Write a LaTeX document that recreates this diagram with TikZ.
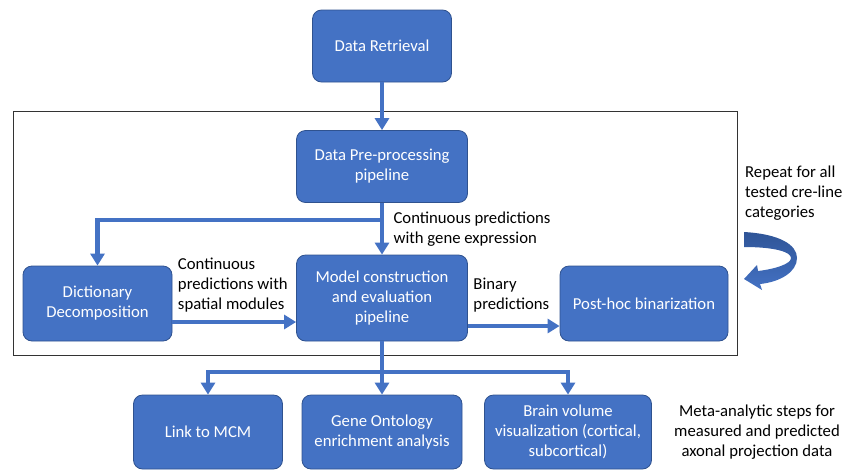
\documentclass[tikz,border=0pt]{standalone}
\usepackage{fontspec}
\setmainfont{Carlito}
\usetikzlibrary{arrows.meta,positioning}
\definecolor{boxblue}{HTML}{4472C4}
\definecolor{boxline}{HTML}{2F528F}
\definecolor{darkblue}{HTML}{2F5597}

\begin{document}
\begin{tikzpicture}[x=1pt,y=-1pt,>={Triangle[width=14pt,length=12pt]},
                    font=\fontsize{16.7}{20}\selectfont,
                    flow/.style={->,line width=4.5pt,draw=boxblue},
                    main node/.style={rectangle,rounded corners=9pt,draw=boxline,line width=0.8pt,
                                      fill=boxblue,text=white,align=center,
                                      minimum width=171pt,minimum height=72pt}]
  \useasboundingbox (0,0) rectangle (856,469);

  \node[main node] (retrieval) at (382,46) [minimum width=139pt] {Data Retrieval};
  \node[main node] (prep) [below of=retrieval, node distance=120.5pt] {Data Pre-processing\\pipeline};
  \node[main node] (model) [below of=prep, node distance=131.5pt, minimum height=86pt] {Model construction\\and evaluation\\pipeline};
  \node[main node] (dict) [left of=model, node distance=284.5pt, yshift=-5.5pt,
                           minimum width=149pt, minimum height=75pt] {Dictionary\\Decomposition};
  \node[main node] (posthoc) [right of=model, node distance=262pt, yshift=-5.5pt,
                              minimum width=168pt, minimum height=75pt] {Post-hoc binarization};
  \node[main node] (gene) [below of=model, node distance=134pt, minimum width=160pt, minimum height=74pt] {Gene Ontology\\enrichment analysis};
  \node[main node] (mcm) [left of=gene, node distance=174pt, minimum width=149pt, minimum height=74pt] {Link to MCM};
  \node[main node] (brain) [right of=gene, node distance=186pt, minimum width=167pt, minimum height=74pt] {Brain volume\\visualization (cortical,\\subcortical)};

  % frame round the per-category steps
  \draw[line width=1pt, black!80] (13,111) rectangle (737,355);

  \coordinate (split) at (prep.south |- 0,220);
  \coordinate (fork) at (model.south |- 0,372);

  \draw[flow] (retrieval) -- (prep);
  \draw[flow] (prep) -- node[right=6pt, align=left, text=black] {Continuous predictions\\with gene expression} (model);
  \draw[flow] (prep.south) -- (split) -| (dict);
  \draw[flow] ([yshift=-18.5pt]dict.east) -- ([yshift=-18.5pt]dict.east -| model.west)
    node[pos=0, above right, yshift=4pt, align=left, text=black] {Continuous\\predictions with\\spatial modules};
  \draw[flow] ([yshift=-28pt]model.east) -- ([yshift=-28pt]model.east -| posthoc.west)
    node[pos=0, above right, yshift=8pt, align=left, text=black] {Binary\\predictions};
  \draw[flow] (model.south) -- (fork) -| (mcm);
  \draw[flow] (fork) -| (brain);
  \draw[flow] (fork) -- (gene);

  \node[right, align=left, inner sep=0] (repeat) at (745,193) {Repeat for all\\tested cre-line\\categories};
  \shade[top color=darkblue, bottom color=boxblue]
    (744,232) .. controls (780,234) and (797,245) .. (797,258)
    .. controls (797,272) and (780,282) .. (760,284) -- (762,290) -- (744,279) -- (757,265) -- (758,271)
    .. controls (775,269) and (791,264) .. (791,258)
    .. controls (791,252) and (775,247) .. (744,247) -- cycle;

  \node[align=center, inner sep=0] (meta) at (757,432) {Meta-analytic steps for\\measured and predicted\\axonal projection data};
\end{tikzpicture}
\end{document}
